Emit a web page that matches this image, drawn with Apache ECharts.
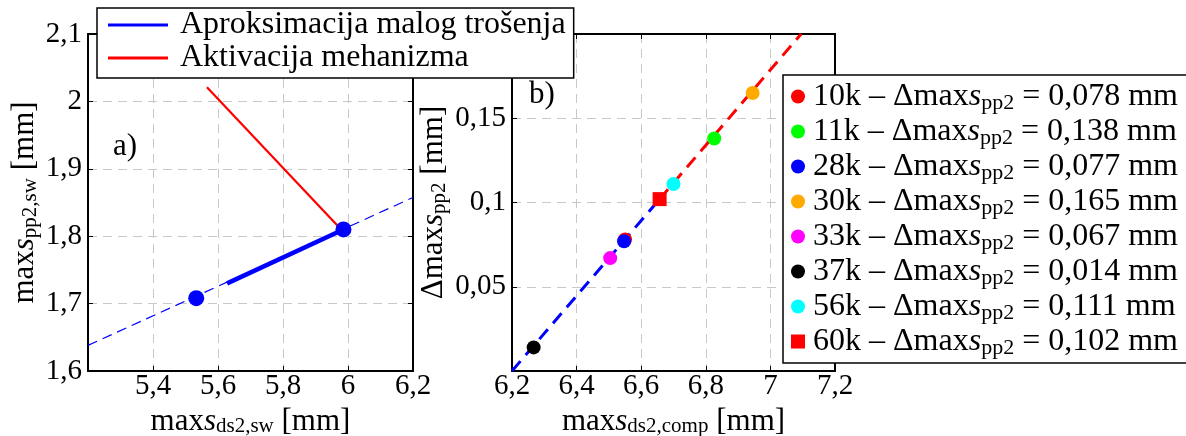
<!DOCTYPE html>
<html><head><meta charset="utf-8">
<script src="https://cdn.jsdelivr.net/npm/echarts@6/dist/echarts.min.js"></script>
<style>html,body{margin:0;padding:0;background:#fff}#c{width:1186px;height:436px}</style>
</head><body><div id="c"></div>
<script>
const FONT = '"Liberation Serif", "Times New Roman", "DejaVu Serif", serif';

// ---- Panel a) ----
const aXTicks = [5.2, 5.4, 5.6, 5.8, 6.0, 6.2];
const aXHidden = [5.2];
const aYTicks = [1.6, 1.7, 1.8, 1.9, 2.0, 2.1];
const aApproxExtLine = [[5.2, 1.638], [6.2, 1.8575]];
const aApproxLine = [[5.628, 1.730], [5.986, 1.810]];
const aActivationLine = [[5.566, 2.021], [5.971, 1.814]];
const aPoints = [[5.533, 1.708], [5.986, 1.810]];
const aLegendNames = ['Aproksimacija malog trošenja', 'Aktivacija mehanizma'];

// ---- Panel b) ----
const bXTicks = [6.2, 6.4, 6.6, 6.8, 7.0, 7.2];
const bYTicks = [0, 0.05, 0.10, 0.15, 0.20];
const bYHidden = [0, 0.2];
const bSamples = ['10k', '11k', '28k', '30k', '33k', '37k', '56k', '60k'];
const bX = [6.550, 6.826, 6.547, 6.945, 6.504, 6.267, 6.700, 6.657];
const bDelta = [0.078, 0.138, 0.077, 0.165, 0.067, 0.014, 0.111, 0.102];
const bColors = ['#ff0000', '#00ff00', '#0000ff', '#ffaa00', '#ff00ff', '#000000', '#00ffff', '#ff0000'];
const bSymbols = ['circle', 'circle', 'circle', 'circle', 'circle', 'circle', 'circle', 'rect'];
const bBlueFit = [[6.2, 0.0], [6.657, 0.102]];
const bRedFit = [[6.657, 0.102], [7.095, 0.2]];

function fmt(v) { const r = Math.round(v * 1000) / 1000; return String(r).replace('.', ','); }
function labelFmt(hidden) { return v => hidden.some(h => Math.abs(h - v) < 1e-9) ? '' : fmt(v); }
function rng(t) { return { min: t[0], max: t[t.length - 1], interval: Math.round((t[1] - t[0]) * 1e6) / 1e6 }; }

const nameRich = {
  m: { fontFamily: FONT, fontSize: 31, lineHeight: 34, color: '#000' },
  i: { fontFamily: FONT, fontSize: 31, lineHeight: 34, fontStyle: 'italic', color: '#000' },
  sub: { fontFamily: FONT, fontSize: 21, lineHeight: 24, padding: [10, 0, 0, 0], color: '#000' }
};
const gridLine = { show: true, lineStyle: { color: '#c8c8c8', width: 1, type: [9, 6] } };
const axLine = { show: true, onZero: false, lineStyle: { color: '#000', width: 2 } };
const tick = { show: true, inside: true, length: 5, lineStyle: { color: '#000', width: 1 } };
const lblStyle = { fontFamily: FONT, fontSize: 29, color: '#000' };

function mainX(gi, t, hidden, name) {
  return Object.assign({ type: 'value', gridIndex: gi, position: 'bottom',
    axisLine: axLine, axisTick: tick, splitLine: gridLine,
    axisLabel: Object.assign({ margin: 1, formatter: labelFmt(hidden) }, lblStyle),
    name: name, nameLocation: 'middle', nameGap: 30,
    nameTextStyle: { fontFamily: FONT, fontSize: 31, color: '#000', rich: nameRich } }, rng(t));
}
function mainY(gi, t, hidden, name, gap) {
  return Object.assign({ type: 'value', gridIndex: gi, position: 'left',
    axisLine: axLine, axisTick: tick, splitLine: gridLine,
    axisLabel: Object.assign({ margin: 6, formatter: labelFmt(hidden) }, lblStyle),
    name: name, nameLocation: 'middle', nameGap: gap, nameRotate: 90,
    nameTextStyle: { fontFamily: FONT, fontSize: 31, color: '#000', rich: nameRich } }, rng(t));
}
function boxX(gi, t) {
  return Object.assign({ type: 'value', gridIndex: gi, position: 'top', axisLine: axLine,
    axisTick: tick, splitLine: { show: false }, axisLabel: { show: false } }, rng(t));
}
function boxY(gi, t) {
  return Object.assign({ type: 'value', gridIndex: gi, position: 'right', axisLine: axLine,
    axisTick: tick, splitLine: { show: false }, axisLabel: { show: false } }, rng(t));
}

const series = [
  { name: 'approxExt', type: 'line', xAxisIndex: 0, yAxisIndex: 0, data: aApproxExtLine,
    showSymbol: false, lineStyle: { color: '#0000ff', width: 1.2, type: [10, 6] }, z: 2 },
  { name: aLegendNames[0], type: 'line', xAxisIndex: 0, yAxisIndex: 0, data: aApproxLine,
    showSymbol: false, itemStyle: { color: '#0000ff' }, lineStyle: { color: '#0000ff', width: 4.5 }, z: 3 },
  { name: aLegendNames[1], type: 'line', xAxisIndex: 0, yAxisIndex: 0, data: aActivationLine,
    showSymbol: false, itemStyle: { color: '#ff0000' }, lineStyle: { color: '#ff0000', width: 2.2 }, z: 3 },
  { name: 'aPoints', type: 'scatter', xAxisIndex: 0, yAxisIndex: 0, data: aPoints,
    symbolSize: 16, itemStyle: { color: '#0000ff', opacity: 1 }, z: 4 },
  { name: 'bBlue', type: 'line', xAxisIndex: 2, yAxisIndex: 2, data: bBlueFit,
    showSymbol: false, lineStyle: { color: '#0000ff', width: 3, type: [13, 8] }, z: 2 },
  { name: 'bRed', type: 'line', xAxisIndex: 2, yAxisIndex: 2, data: bRedFit,
    showSymbol: false, lineStyle: { color: '#ff0000', width: 3, type: [13, 8] }, z: 2 }
];
bSamples.forEach((s, i) => {
  series.push({ name: s, type: 'scatter', xAxisIndex: 2, yAxisIndex: 2,
    data: [[bX[i], bDelta[i]]], symbol: bSymbols[i], symbolSize: 14,
    itemStyle: { color: bColors[i], opacity: 1 }, z: 4 });
});

const option = {
  animation: false,
  backgroundColor: '#fff',
  grid: [
    { left: 88, right: 1186 - 413, top: 34, bottom: 436 - 371, outerBoundsMode: 'none', containLabel: false },
    { left: 512, right: 1186 - 835, top: 34, bottom: 436 - 371, outerBoundsMode: 'none', containLabel: false }
  ],
  xAxis: [
    mainX(0, aXTicks, aXHidden, '{m|max}{i|s}{sub|ds2,sw}{m| [mm]}'),
    boxX(0, aXTicks),
    mainX(1, bXTicks, [], '{m|max}{i|s}{sub|ds2,comp}{m| [mm]}'),
    boxX(1, bXTicks)
  ],
  yAxis: [
    mainY(0, aYTicks, [], '{m|max}{i|s}{sub|pp2,sw}{m| [mm]}', 46),
    boxY(0, aYTicks),
    mainY(1, bYTicks, bYHidden, '{m|Δmax}{i|s}{sub|pp2}{m| [mm]}', 61),
    boxY(1, bYTicks)
  ],
  legend: [
    { data: aLegendNames, left: 97, top: 8, orient: 'vertical', icon: 'rect',
      itemWidth: 60, itemHeight: 3, itemGap: 1, padding: [1, 8, 4, 11],
      backgroundColor: '#fff', borderColor: '#000', borderWidth: 1.5, selectedMode: false,
      formatter: n => '{t|' + n + '}',
      textStyle: { fontFamily: FONT, fontSize: 32, color: '#000',
        rich: { t: { fontFamily: FONT, fontSize: 32, lineHeight: 32, padding: [0, 0, 0, 7], color: '#000' } } } },
    { data: bSamples.map((s, i) => ({ name: s, icon: bSymbols[i] })), left: 783, top: 75, orient: 'vertical',
      itemWidth: 14, itemHeight: 14, itemGap: 0, padding: [4, 10, 4, 8],
      backgroundColor: '#fff', borderColor: '#000', borderWidth: 1.5, selectedMode: false,
      formatter: n => { const i = bSamples.indexOf(n);
        return '{n0|' + n + ' – Δmax}{i|s}{sub|pp2}{n| = ' + bDelta[i].toFixed(3).replace('.', ',') + ' mm}'; },
      textStyle: { fontFamily: FONT, fontSize: 32, color: '#000',
        rich: {
          n0: { fontFamily: FONT, fontSize: 32, lineHeight: 35, padding: [0, 0, 0, 3], color: '#000' },
          n: { fontFamily: FONT, fontSize: 32, lineHeight: 35, color: '#000' },
          i: { fontFamily: FONT, fontSize: 32, lineHeight: 35, fontStyle: 'italic', color: '#000' },
          sub: { fontFamily: FONT, fontSize: 22, lineHeight: 22, padding: [13, 0, 0, 0], color: '#000' }
        } } }
  ],
  graphic: [
    { type: 'text', x: 125, y: 147, z: 10, style: { text: 'a)', fontFamily: FONT, fontSize: 31, fill: '#000', align: 'center', verticalAlign: 'middle' } },
    { type: 'text', x: 542, y: 95, z: 10, style: { text: 'b)', fontFamily: FONT, fontSize: 31, fill: '#000', align: 'center', verticalAlign: 'middle' } }
  ],
  series: series
};
const chart = echarts.init(document.getElementById('c'), null, { renderer: 'canvas' });
chart.setOption(option);
</script>
</body></html>
